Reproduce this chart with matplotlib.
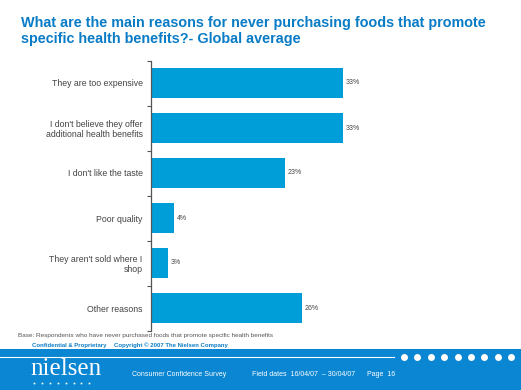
import matplotlib
matplotlib.use("Agg")
import matplotlib.pyplot as plt
from matplotlib.patches import Rectangle
from matplotlib.lines import Line2D

categories = [
    "They are too expensive",
    "I don't believe they offer\nadditional health benefits",
    "I don't like the taste",
    "Poor quality",
    "They aren't sold where I\nshop",
    "Other reasons",
]
values = [33, 33, 23, 4, 3, 26]
value_labels = ["33%", "33%", "23%", "4%", "3%", "26%"]

W, H = 521, 390
fig = plt.figure(figsize=(W / 100, H / 100), dpi=100)
fig.patch.set_facecolor("white")

def fx(px):
    return px / W

def fy(py):
    return 1 - py / H

FONT = "Liberation Sans"
BAR = "#009ED9"
TITLE = "#0A7CC6"
BAND = "#0A86D2"

ax = fig.add_axes([fx(151), fy(330.5), fx(500 - 151), (330.5 - 60.5) / H])
y = list(range(len(categories)))
ax.barh(y, values, height=0.66, color=BAR, zorder=2)
ax.set_ylim(len(categories) - 0.5, -0.5)
ax.set_xlim(0, 60)
for s in ["top", "right", "bottom"]:
    ax.spines[s].set_visible(False)
ax.spines["left"].set_color("#555555")
ax.spines["left"].set_linewidth(0.9)
ax.set_xticks([])
ax.set_yticks(y)
ax.set_yticklabels(categories, fontsize=6.3, family=FONT, color="#444444",
                   ha="right", linespacing=1.15)
ax.tick_params(axis="y", which="major", length=0, pad=6)
ax.set_yticks([i - 0.5 for i in range(len(categories) + 1)], minor=True)
ax.tick_params(axis="y", which="minor", length=3, width=0.8, color="#555555", direction="out")
for yi, v, lab in zip(y, values, value_labels):
    ax.text(v + 0.4, yi, lab, fontsize=5, family=FONT, color="#444444",
            va="center", ha="left")

fig.text(fx(21), fy(23), "What are the main reasons for never purchasing foods that promote",
         fontsize=10.4, fontweight="bold", family=FONT, color=TITLE, va="center", ha="left")
fig.text(fx(21), fy(39.5), "specific health benefits?- Global average",
         fontsize=10.4, fontweight="bold", family=FONT, color=TITLE, va="center", ha="left")

fig.text(fx(18), fy(335), "Base: Respondents who have never purchased foods that promote specific health benefits",
         fontsize=4.6, family=FONT, color="#555555", va="center", ha="left")
fig.text(fx(32), fy(345), "Confidential & Proprietary",
         fontsize=4.3, family=FONT, color=TITLE, fontweight="bold", va="center", ha="left")
fig.text(fx(114), fy(345), "Copyright \u00a9 2007 The Nielsen Company",
         fontsize=4.3, family=FONT, color=TITLE, fontweight="bold", va="center", ha="left")

fig.add_artist(Rectangle((0, 0), 1, fy(349), transform=fig.transFigure,
                         facecolor=BAND, edgecolor="none", zorder=0))
fig.add_artist(Line2D([0, fx(394)], [fy(356.5), fy(356.5)], transform=fig.transFigure,
                      color="white", linewidth=0.8))
dot_x = [404 + i * 13.4 for i in range(9)]
fig.add_artist(Line2D([fx(d) for d in dot_x], [fy(356.5)] * len(dot_x),
                      transform=fig.transFigure, linestyle="none", marker="o",
                      markersize=5, markerfacecolor="white", markeredgecolor="none"))
fig.text(fx(30), fy(369), "nielsen", fontsize=18, family="Liberation Serif",
         color="white", va="center", ha="left")
small_x = [34 + i * 7.9 for i in range(8)]
fig.add_artist(Line2D([fx(d) for d in small_x], [fy(383)] * len(small_x),
                      transform=fig.transFigure, linestyle="none", marker="s",
                      markersize=1.2, markerfacecolor="white", markeredgecolor="none"))
fig.text(fx(132), fy(374), "Consumer Confidence Survey", fontsize=5, family=FONT,
         color="white", va="center", ha="left")
fig.text(fx(252), fy(374), "Field dates  16/04/07  \u2013 30/04/07", fontsize=5, family=FONT,
         color="white", va="center", ha="left")
fig.text(fx(367), fy(374), "Page  16", fontsize=5, family=FONT,
         color="white", va="center", ha="left")

fig.savefig("out.png", dpi=100)
